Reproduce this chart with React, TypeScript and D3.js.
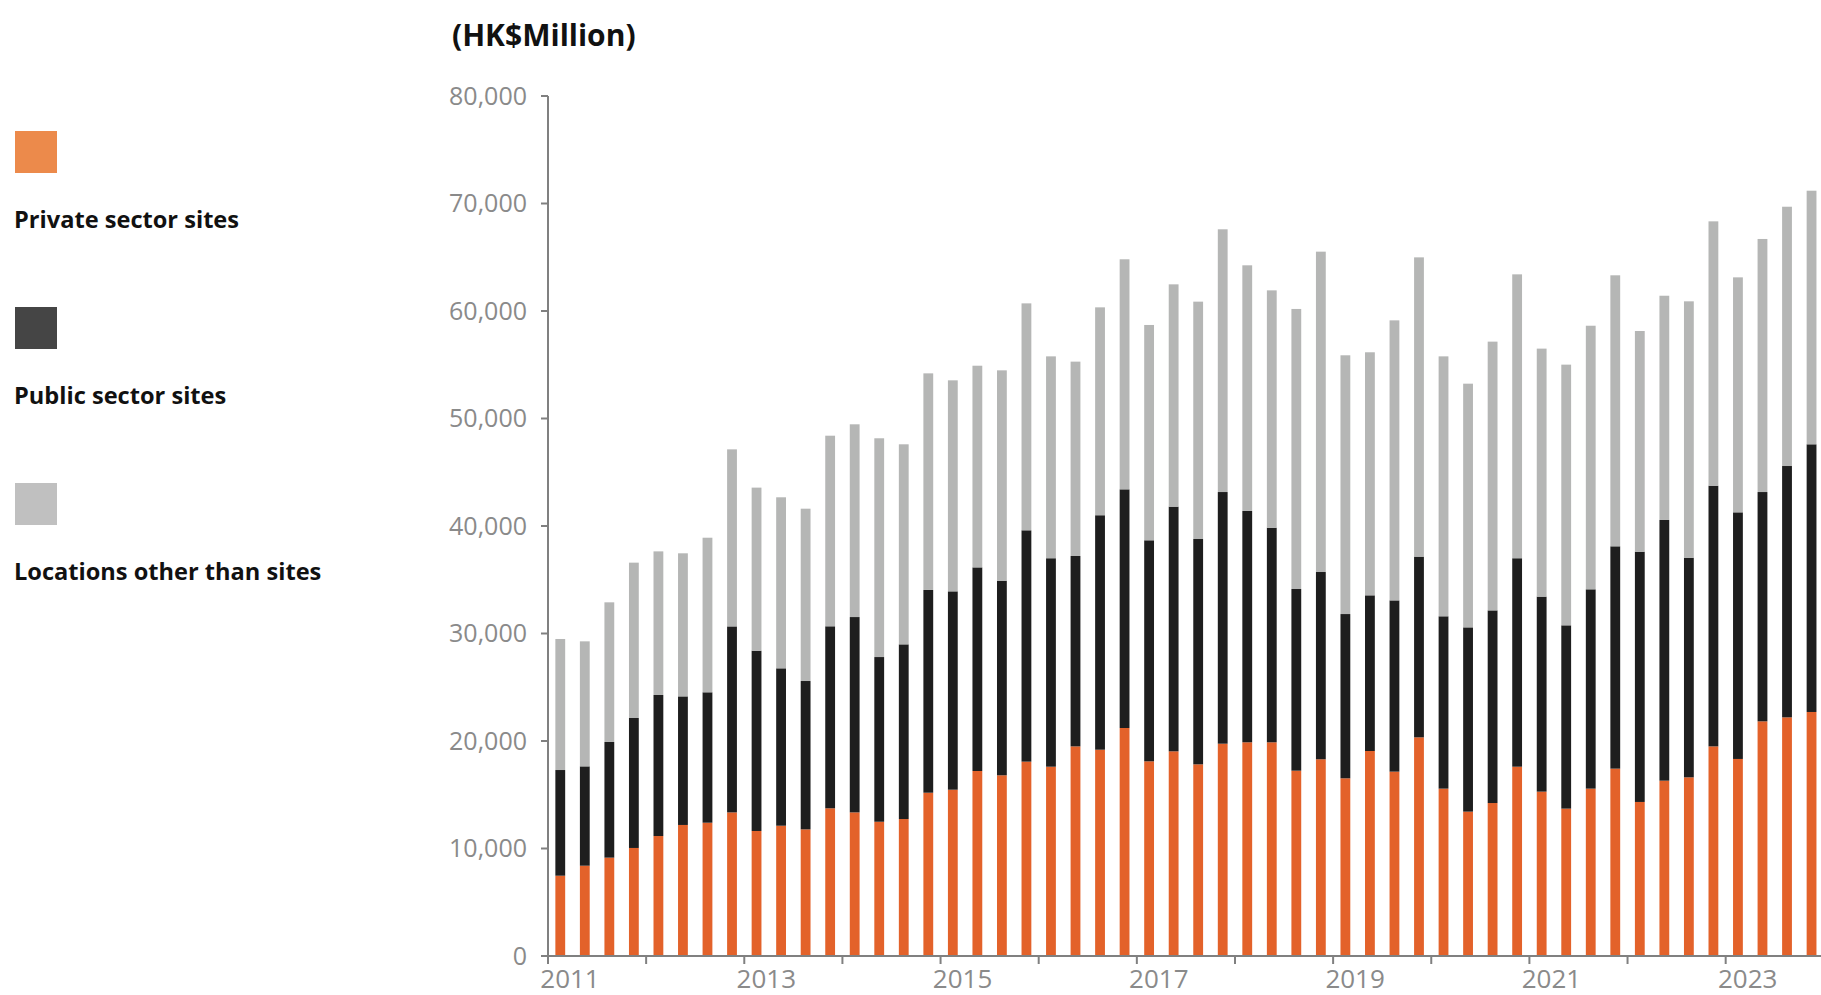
import React from "react";
import * as d3 from "d3";

const years = [2011, 2012, 2013, 2014, 2015, 2016, 2017, 2018, 2019, 2020, 2021, 2022, 2023];
const quarters = ["Q1", "Q2", "Q3", "Q4"];
const categories = years.flatMap((y) => quarters.map((q) => `${y}${q}`));

const seriesNames = ["Private sector sites", "Public sector sites", "Locations other than sites"];

const privateSites = [
  7470, 8400, 9150, 10050, 11160, 12190, 12400, 13360, 11630, 12120, 11780, 13740, 13360,
  12490, 12740, 15190, 15470, 17210, 16810, 18080, 17610, 19500, 19190, 21210, 18110, 19040,
  17830, 19750, 19880, 19880, 17240, 18300, 16530, 19070, 17150, 20340, 15570, 13430, 14230,
  17610, 15290, 13710, 15570, 17430, 14330, 16310, 16620, 19500, 18330, 21830, 22200, 22700,
];
const publicSites = [
  9830, 9240, 10760, 12090, 13120, 11960, 12130, 17300, 16770, 14640, 13800, 16930, 18170,
  15320, 16250, 18860, 18450, 18940, 18100, 21520, 19390, 17710, 21810, 22200, 20560, 22760,
  20960, 23410, 21520, 19960, 16900, 17420, 15280, 14480, 15930, 16810, 16030, 17140, 17920,
  19390, 18140, 17050, 18540, 20680, 23280, 24250, 20430, 24250, 22940, 21330, 23380, 24900,
];
const otherLocations = [
  12190, 11630, 12990, 14450, 13360, 13310, 14380, 16470, 15170, 15910, 16030, 17730, 17930,
  20350, 18610, 20150, 19630, 18760, 19570, 21110, 18780, 18080, 19340, 21400, 20030, 20680,
  22080, 24440, 22850, 22080, 26050, 29800, 24070, 22610, 26050, 27840, 24180, 22670, 25000,
  26410, 23070, 24250, 24520, 25210, 20530, 20860, 23850, 24590, 21860, 23540, 24120, 23590,
];

const yTicks = [0, 10000, 20000, 30000, 40000, 50000, 60000, 70000, 80000];
const yearLabels = [2011, 2013, 2015, 2017, 2019, 2021, 2023];
const unitLabel = "(HK$Million)";

const barColors = ["#E3622A", "#1E1E1E", "#B5B6B5"];
const legendColors = ["#EC8A4B", "#454545", "#C0C0C0"];

export default function App() {
  const W = 1821;
  const H = 995;
  const x0 = 548;
  const step = 24.535;
  const xEnd = x0 + categories.length * step;
  const yBottom = 956;
  const yTop = 96;

  const x = d3
    .scaleBand<string>()
    .domain(categories)
    .range([x0, xEnd])
    .paddingInner(0.6)
    .paddingOuter(0.3);
  const xYear = d3.scaleLinear().domain([2011, 2024]).range([x0, xEnd]);
  const y = d3.scaleLinear().domain([0, 80000]).range([yBottom, yTop]);

  const table = categories.map((c, i) => ({
    c,
    s0: privateSites[i],
    s1: publicSites[i],
    s2: otherLocations[i],
  }));
  const stack = d3.stack<any>().keys(["s0", "s1", "s2"]);
  const layers = stack(table);

  const fmt = d3.format(",");
  const axisColor = "#808080";
  const labelColor = "#8a8a8a";
  const font = "'Open Sans', sans-serif";

  return (
    <div style={{ position: "fixed", left: 0, top: 0, width: W, height: H, overflow: "hidden", background: "#fff" }}>
      <svg width={W} height={H} style={{ display: "block" }}>
        {/* unit title */}
        <text x={452} y={46} fontFamily={font} fontWeight={700} fontSize={30} fill="#111">
          {unitLabel}
        </text>

        {/* legend */}
        {seriesNames.map((name, i) => (
          <g key={name}>
            <rect x={15} y={131 + i * 176} width={42} height={42} fill={legendColors[i]} />
            <text x={14} y={228 + i * 176} fontFamily={font} fontWeight={700} fontSize={23.6} fill="#111">
              {name}
            </text>
          </g>
        ))}

        {/* bars */}
        {layers.map((layer, li) => (
          <g key={li} fill={barColors[li]}>
            {layer.map((d, i) => (
              <rect
                key={i}
                x={x(categories[i])}
                y={y(d[1])}
                width={x.bandwidth()}
                height={y(d[0]) - y(d[1])}
              />
            ))}
          </g>
        ))}

        {/* y axis */}
        <line x1={x0} x2={x0} y1={yTop} y2={yBottom} stroke={axisColor} strokeWidth={2} />
        {yTicks.map((t) => (
          <g key={t}>
            <line x1={x0 - 7} x2={x0} y1={y(t)} y2={y(t)} stroke={axisColor} strokeWidth={2} />
            <text
              x={527}
              y={y(t)}
              dy="0.35em"
              textAnchor="end"
              fontFamily={font}
              fontSize={25}
              fill={labelColor}
            >
              {fmt(t)}
            </text>
          </g>
        ))}

        {/* x axis */}
        <line x1={x0 - 1} x2={xEnd} y1={yBottom} y2={yBottom} stroke={axisColor} strokeWidth={2} />
        {years.map((yr) => (
          <line
            key={yr}
            x1={xYear(yr)}
            x2={xYear(yr)}
            y1={yBottom}
            y2={yBottom + 8}
            stroke={axisColor}
            strokeWidth={2}
          />
        ))}
        {yearLabels.map((yr) => (
          <text
            key={yr}
            x={xYear(yr) + 22}
            y={988}
            textAnchor="middle"
            fontFamily={font}
            fontSize={26}
            fill={labelColor}
          >
            {yr}
          </text>
        ))}
      </svg>
    </div>
  );
}
